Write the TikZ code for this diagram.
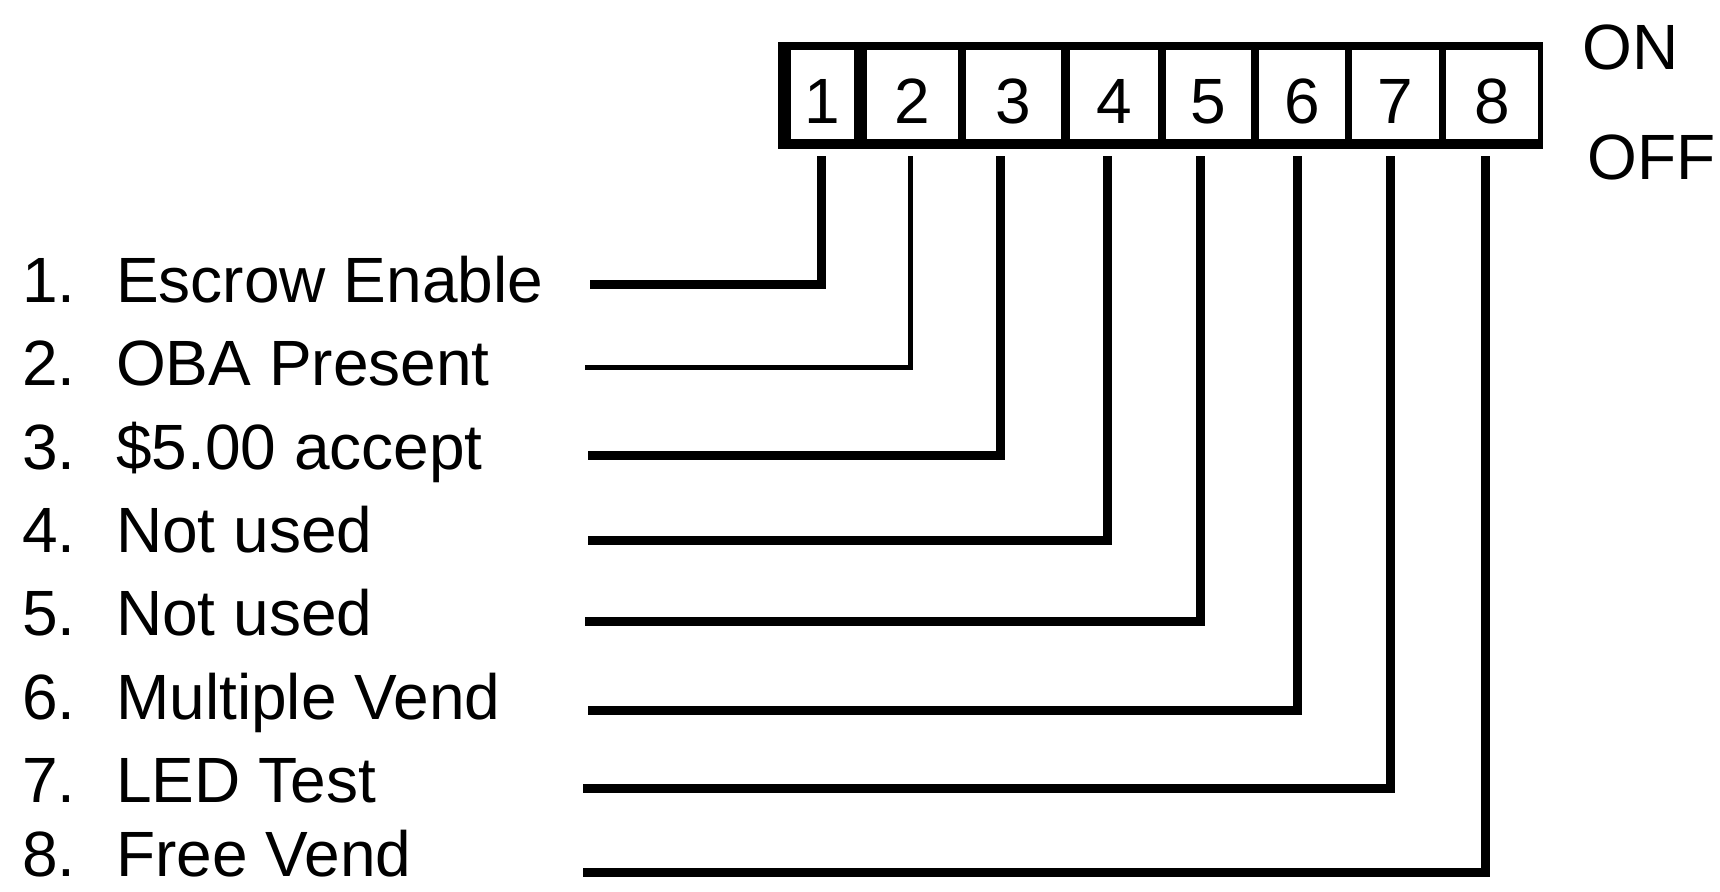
\documentclass[tikz,border=0pt]{standalone}
\usepackage{fontspec}
\setmainfont{Liberation Sans}
\begin{document}
\begin{tikzpicture}[x=1pt,y=-1pt,
  lab/.style={anchor=base west, inner sep=0pt, font=\fontsize{64}{70}\selectfont},
  cell/.style={fill=white, inner sep=0pt, minimum height=89pt, text height=57pt, text depth=0pt, font=\fontsize{64}{70}\selectfont},
  wire/.style={line width=9pt},
  thinwire/.style={line width=5pt}]
\useasboundingbox (0,0) rectangle (1720,891);
% switch body
\node[fill=black, inner sep=0pt, minimum width=765pt, minimum height=107pt] (sw) at (1160.5,95.5) {};
\node[cell, minimum width=63pt] (c1) at (822.5,94.5) {1};
\node[cell, minimum width=91pt] (c2) at (912.5,94.5) {2};
\node[cell, minimum width=95pt] (c3) at (1013.5,94.5) {3};
\node[cell, minimum width=88pt] (c4) at (1114,94.5) {4};
\node[cell, minimum width=85pt] (c5) at (1208.5,94.5) {5};
\node[cell, minimum width=86pt] (c6) at (1302,94.5) {6};
\node[cell, minimum width=87pt] (c7) at (1395.5,94.5) {7};
\node[cell, minimum width=92pt] (c8) at (1492,94.5) {8};
\node[lab] (on) at (1582,70) {ON};
\node[lab] (off) at (1587,179) {OFF};
% labels
\node[lab] (l1) at (22,302) {\makebox[94pt][l]{1.}Escrow Enable};
\node[lab] (l2) at (22,385) {\makebox[94pt][l]{2.}OBA Present};
\node[lab] (l3) at (22,469) {\makebox[94pt][l]{3.}\$5.00 accept};
\node[lab] (l4) at (22,552) {\makebox[94pt][l]{4.}Not used};
\node[lab] (l5) at (22,635) {\makebox[94pt][l]{5.}Not used};
\node[lab] (l6) at (22,719) {\makebox[94pt][l]{6.}Multiple Vend};
\node[lab] (l7) at (22,802) {\makebox[94pt][l]{7.}LED Test};
\node[lab] (l8) at (22,876) {\makebox[94pt][l]{8.}Free Vend};
% line ends
\coordinate (s1) at (590,284);  \coordinate (t1) at (821,156);
\coordinate (s2) at (585,367);  \coordinate (t2) at (910,156);
\coordinate (s3) at (588,455);  \coordinate (t3) at (1000,156);
\coordinate (s4) at (588,540);  \coordinate (t4) at (1107,156);
\coordinate (s5) at (585,621);  \coordinate (t5) at (1200,156);
\coordinate (s6) at (588,710);  \coordinate (t6) at (1297,156);
\coordinate (s7) at (583,788);  \coordinate (t7) at (1390,156);
\coordinate (s8) at (583,872);  \coordinate (t8) at (1485,156);
\draw[wire] (s1) -| (t1);
\draw[thinwire] (s2) -| (t2);
\draw[wire] (s3) -| (t3);
\draw[wire] (s4) -| (t4);
\draw[wire] (s5) -| (t5);
\draw[wire] (s6) -| (t6);
\draw[wire] (s7) -| (t7);
\draw[wire] (s8) -| (t8);
\end{tikzpicture}
\end{document}
